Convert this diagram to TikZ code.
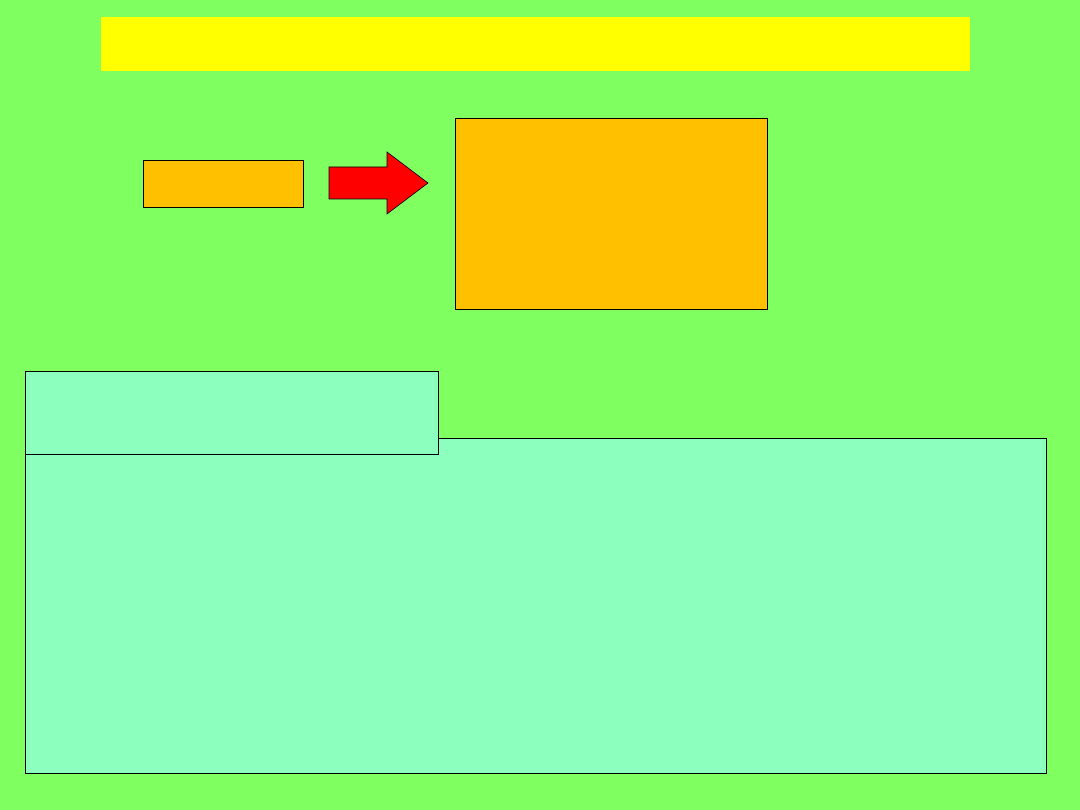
\documentclass[tikz,border=0pt]{standalone}
\usetikzlibrary{positioning}
\definecolor{bggreen}{RGB}{128,255,96}
\definecolor{titleyellow}{RGB}{255,255,0}
\definecolor{boxorange}{RGB}{255,192,0}
\definecolor{boxmint}{RGB}{140,255,190}
\definecolor{arrred}{RGB}{255,0,0}
\tikzset{
  px/.style={x=1pt,y=-1pt},
  orangebox/.style={draw=black,line width=0.8pt,fill=boxorange,inner sep=0pt,anchor=north west},
  mintbox/.style={draw=black,line width=0.8pt,fill=boxmint,inner sep=0pt,anchor=north west},
  titlebar/.style={fill=titleyellow,inner sep=0pt,anchor=north west},
}
\begin{document}
\begin{tikzpicture}[px]
\fill[bggreen] (0,0) rectangle (1080,810);
\useasboundingbox (0,0) rectangle (1080,810);
\node[titlebar,minimum width=869pt,minimum height=54pt] (title) at (101,17) {};
\node[orangebox,minimum width=160pt,minimum height=47pt] (small) at (143,160) {};
\node[orangebox,minimum width=312pt,minimum height=191pt] (big) at (455,118) {};
\draw[draw=black,line width=0.6pt,fill=arrred,line join=miter]
  (329,167) -- (387,167) -- (387,152) -- (428,183) -- (387,214) -- (387,199) -- (329,199) -- cycle;
\node[mintbox,minimum width=1021pt,minimum height=335pt] (main) at (25,438) {};
\node[mintbox,minimum width=413pt,minimum height=83pt] (tab) at (25,371) {};
\end{tikzpicture}
\end{document}
